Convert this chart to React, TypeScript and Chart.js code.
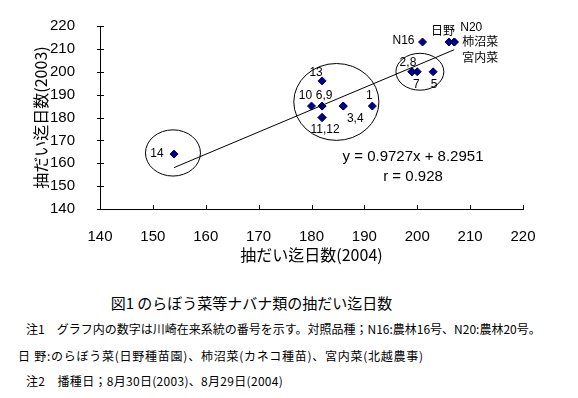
import React, { useEffect, useRef } from "react";
import { Chart, registerables } from "chart.js";

Chart.register(...registerables);

// ---- data ----
const pointNames = ["1", "2", "3", "4", "5", "6", "7", "8", "9", "10", "11", "12", "13", "14", "N16", "日野", "N20", "柿沼菜", "宮内菜"];
const days2004 = [191.5, 199, 186, 186, 203, 182, 200, 199, 182, 180, 182, 182, 182, 154, 201, 206, 207, 207, 207];
const days2003 = [185, 200, 185, 185, 200, 185, 200, 200, 185, 185, 180, 180, 196, 164, 213, 213, 213, 213, 213];

const axisMin = 140;
const axisMax = 220;
const axisStep = 10;

const slope = 0.9727;
const intercept = 8.2951;
const equationText = "y = 0.9727x + 8.2951";
const rText = "r = 0.928";

const xTitle = "抽だい迄日数(2004)";
const yTitle = "抽だい迄日数(2003)";

// group circles (data units)
const circleCx = [153.8, 184.7, 200.5];
const circleCy = [164.5, 186.8, 200];
const circleRx = [5.2, 8.05, 4.53];
const circleRy = [10.1, 16.8, 8.06];

// point annotations: text and the data point they belong to
const noteText = ["14", "10", "6,9", "13", "1", "3,4", "11,12", "2,8", "7", "5", "N16", "日野", "N20", "柿沼菜", "宮内菜"];
const noteAtX = [154, 180, 182, 182, 191.5, 186, 182, 199, 200, 203, 201, 206, 207, 207, 207];
const noteAtY = [164, 185, 185, 196, 185, 185, 180, 200, 200, 200, 213, 213, 213, 213, 213];

const captionTitle = "図1 のらぼう菜等ナバナ類の抽だい迄日数";
const captionNote1 = "注1　グラフ内の数字は川崎在来系統の番号を示す。対照品種；N16:農林16号、N20:農林20号。";
const captionNote2 = "日 野:のらぼう菜(日野種苗園)、柿沼菜(カネコ種苗)、宮内菜(北越農事)";
const captionNote3 = "注2　播種日；8月30日(2003)、8月29日(2004)";

// ---- styles (pixel offsets of annotation texts) ----
const noteDx = [-17, -6, 2, -6, -3, 12, 3, -4, -1, 1, -19, -6, 17, 26, 26];
const noteDy = [0, -10, -10, -8, -10, 13, 12, -9, 13, 13, -1, -10, -14, 1, 17];

const LATIN = "'Liberation Sans', 'Noto Sans CJK JP', sans-serif";
const CJK = "'Noto Sans CJK JP', 'Liberation Sans', sans-serif";

const annotPlugin = {
  id: "annot",
  afterDraw(chart: any) {
    const { ctx, scales, chartArea } = chart;
    const xs = scales.x;
    const ys = scales.y;
    ctx.save();
    ctx.strokeStyle = "#000";
    ctx.lineWidth = 1;
    // group circles
    for (let i = 0; i < circleCx.length; i++) {
      const cx = xs.getPixelForValue(circleCx[i]);
      const cy = ys.getPixelForValue(circleCy[i]);
      const rx = Math.abs(xs.getPixelForValue(circleCx[i] + circleRx[i]) - cx);
      const ry = Math.abs(ys.getPixelForValue(circleCy[i] + circleRy[i]) - cy);
      ctx.beginPath();
      ctx.ellipse(cx, cy, rx, ry, 0, 0, Math.PI * 2);
      ctx.stroke();
    }
    // tick marks
    ctx.beginPath();
    for (const t of ys.ticks) {
      const py = Math.round(ys.getPixelForValue(t.value)) + 0.5;
      ctx.moveTo(chartArea.left - 3, py);
      ctx.lineTo(chartArea.left + 4, py);
    }
    for (const t of xs.ticks) {
      const px = Math.round(xs.getPixelForValue(t.value)) + 0.5;
      ctx.moveTo(px, chartArea.bottom - 4);
      ctx.lineTo(px, chartArea.bottom);
    }
    ctx.stroke();
    // point notes
    ctx.fillStyle = "#000";
    ctx.textAlign = "center";
    ctx.textBaseline = "middle";
    ctx.font = "12px " + LATIN;
    for (let i = 0; i < noteText.length; i++) {
      const px = xs.getPixelForValue(noteAtX[i]) + noteDx[i];
      const py = ys.getPixelForValue(noteAtY[i]) + noteDy[i];
      ctx.fillText(noteText[i], px, py);
    }
    // equation
    ctx.font = "15px " + LATIN;
    ctx.fillText(equationText, xs.getPixelForValue(199.2), ys.getPixelForValue(162.6));
    ctx.fillText(rText, xs.getPixelForValue(199.2), ys.getPixelForValue(153.9));
    ctx.restore();
  },
};

export default function App() {
  const ref = useRef<HTMLCanvasElement>(null);
  useEffect(() => {
    if (!ref.current) return;
    const pts = days2004.map((x, i) => ({ x, y: days2003[i] }));
    const xMinD = Math.min(...days2004);
    const xMaxD = Math.max(...days2004);
    const fit = [
      { x: xMinD, y: slope * xMinD + intercept },
      { x: xMaxD, y: slope * xMaxD + intercept },
    ];
    const chart = new Chart(ref.current, {
      type: "scatter",
      data: {
        labels: pointNames,
        datasets: [
          {
            type: "line",
            data: fit,
            borderColor: "#000",
            borderWidth: 1,
            pointRadius: 0,
            fill: false,
          } as any,
          {
            data: pts,
            pointStyle: "rectRot",
            pointRadius: 4,
            backgroundColor: "#000080",
            borderColor: "#000080",
            borderWidth: 1,
          },
        ],
      },
      options: {
        animation: false,
        responsive: false,
        devicePixelRatio: 1,
        layout: { padding: { left: 0, right: 55, top: 25, bottom: 0 } },
        plugins: { legend: { display: false }, tooltip: { enabled: false } },
        scales: {
          x: {
            type: "linear",
            min: axisMin,
            max: axisMax,
            grid: { display: false },
            border: { display: true, color: "#000", width: 1 },
            ticks: { stepSize: axisStep, color: "#000", font: { family: LATIN, size: 15 }, padding: 11, maxRotation: 0 },
            title: { display: true, text: xTitle, color: "#000", font: { family: CJK, size: 16 }, padding: { top: 0, bottom: 10 } },
            afterFit: (s: any) => { s.height = 66; },
          },
          y: {
            type: "linear",
            min: axisMin,
            max: axisMax,
            grid: { display: false },
            border: { display: true, color: "#000", width: 1 },
            ticks: { stepSize: axisStep, color: "#000", font: { family: LATIN, size: 15 }, padding: 17 },
            title: { display: true, text: yTitle, color: "#000", font: { family: CJK, size: 16 }, padding: { top: 31, bottom: 0 } },
            afterFit: (s: any) => { s.width = 100; },
          },
        },
      },
      plugins: [annotPlugin],
    });
    return () => chart.destroy();
  }, []);

  const cap: React.CSSProperties = {
    position: "absolute",
    whiteSpace: "nowrap",
    fontFamily: CJK,
    lineHeight: 1,
    color: "#000",
  };

  return (
    <div style={{ position: "fixed", left: 0, top: 0, width: 578, height: 398, background: "#fff" }}>
      <canvas ref={ref} width={578} height={275} style={{ position: "absolute", left: 0, top: 0 }} />
      <div style={{ ...cap, left: 251.5, top: 295, fontSize: 15, transform: "translateX(-50%)" }}>{captionTitle}</div>
      <div style={{ ...cap, left: 26, top: 323, fontSize: 12 }}>{captionNote1}</div>
      <div style={{ ...cap, left: 18, top: 350, fontSize: 12, letterSpacing: 0.75 }}>{captionNote2}</div>
      <div style={{ ...cap, left: 26, top: 375, fontSize: 12, letterSpacing: 0.3 }}>{captionNote3}</div>
    </div>
  );
}
